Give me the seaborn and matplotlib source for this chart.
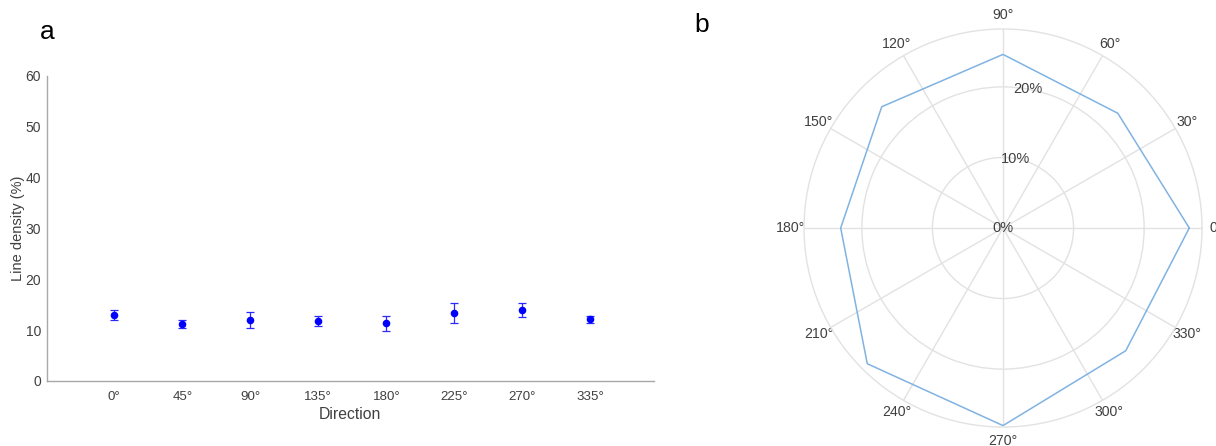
import numpy as np
import pandas as pd
import matplotlib
matplotlib.use("Agg")
import matplotlib.pyplot as plt
import seaborn as sns

# ---- data ----
directions = ["0°", "45°", "90°", "135°", "180°", "225°", "270°", "335°"]
density_mean = [13.0, 11.2, 12.0, 11.8, 11.35, 13.4, 13.9, 12.1]
density_err = [1.0, 0.73, 1.57, 0.95, 1.45, 2.0, 1.34, 0.76]

polar_angles_deg = [0, 45, 90, 135, 180, 225, 270, 315]
polar_values = [26.4, 23.0, 24.6, 24.3, 23.0, 27.2, 28.0, 24.6]
polar_rticks = [0, 10, 20]
polar_rtick_labels = ["0%", "10%", "20%"]

sns.set_theme(style="white")
plt.rcParams["font.family"] = ["Liberation Sans", "DejaVu Sans"]

TXT = "#404040"
SPINE = "#a8a8a8"
W, H = 1216, 446

fig = plt.figure(figsize=(W / 100, H / 100), dpi=100)

# ---- panel a ----
ax = fig.add_axes([46.7 / W, (H - 381) / H, (654 - 46.7) / W, (381 - 75.7) / H])
xpos = np.arange(len(directions))
df = pd.DataFrame({"x": xpos, "y": density_mean})
ax.errorbar(xpos, density_mean, yerr=density_err, fmt="none", ecolor="#2a2aff",
            elinewidth=0.9, capsize=3.2, capthick=0.9, zorder=2)
sns.scatterplot(data=df, x="x", y="y", ax=ax, color="#0000ff", s=30,
                edgecolor="#0000ff", linewidth=0, zorder=3, legend=False)
ax.set_xlim(-0.994, 7.937)
ax.set_ylim(0, 60)
ax.set_xticks(xpos)
ax.set_xticklabels(directions)
ax.set_yticks([0, 10, 20, 30, 40, 50, 60])
for s in ["top", "right"]:
    ax.spines[s].set_visible(False)
for s in ["left", "bottom"]:
    ax.spines[s].set_color(SPINE)
    ax.spines[s].set_linewidth(1.0)
ax.tick_params(axis="x", direction="in", length=4, width=0.8, colors=SPINE,
               labelcolor=TXT, labelsize=9.6, pad=7)
ax.tick_params(axis="y", direction="out", length=3, width=0.8, colors=SPINE,
               labelcolor=TXT, labelsize=10, pad=1)
ax.set_xlabel("Direction", color=TXT, fontsize=11.3, labelpad=3)
ax.set_ylabel("Line density (%)", color=TXT, fontsize=10.5, labelpad=0.5)
ax.grid(False)

fig.text(47 / W, 1 - 32 / H, "a", fontsize=19, color="black",
         ha="center", va="center")
fig.text(702 / W, 1 - 25 / H, "b", fontsize=19, color="black",
         ha="center", va="center")

# ---- panel b (polar) ----
cx, cy, R = 1003, 228, 199
pax = fig.add_axes([(cx - R) / W, (H - cy - R) / H, 2 * R / W, 2 * R / H],
                   projection="polar")
theta = np.deg2rad(polar_angles_deg + [polar_angles_deg[0]])
rvals = polar_values + [polar_values[0]]
pdf = pd.DataFrame({"t": theta, "r": rvals})
sns.lineplot(data=pdf, x="t", y="r", ax=pax, sort=False, color="#80b3e2",
             linewidth=1.1, estimator=None)
pax.set_xlabel("")
pax.set_ylabel("")
pax.set_ylim(0, 28.2)
pax.set_yticks(polar_rticks)
pax.set_yticklabels([])
for rv, lab in zip(polar_rticks, polar_rtick_labels):
    pax.text(np.deg2rad(80), rv, lab, ha="center", va="center", color=TXT,
             fontsize=10.5, zorder=5)
pax.set_xticks(np.deg2rad(np.arange(0, 360, 30)))
pax.set_xticklabels([f"{d}°" for d in range(0, 360, 30)], color=TXT, fontsize=10.2)
pax.tick_params(axis="x", pad=-3)
pax.grid(True, color="#e2e2e2", linewidth=1.0)
pax.spines["polar"].set_color("#e2e2e2")
pax.spines["polar"].set_linewidth(1.0)
pax.set_facecolor("white")

fig.savefig("out.png", dpi=100, facecolor="white")
